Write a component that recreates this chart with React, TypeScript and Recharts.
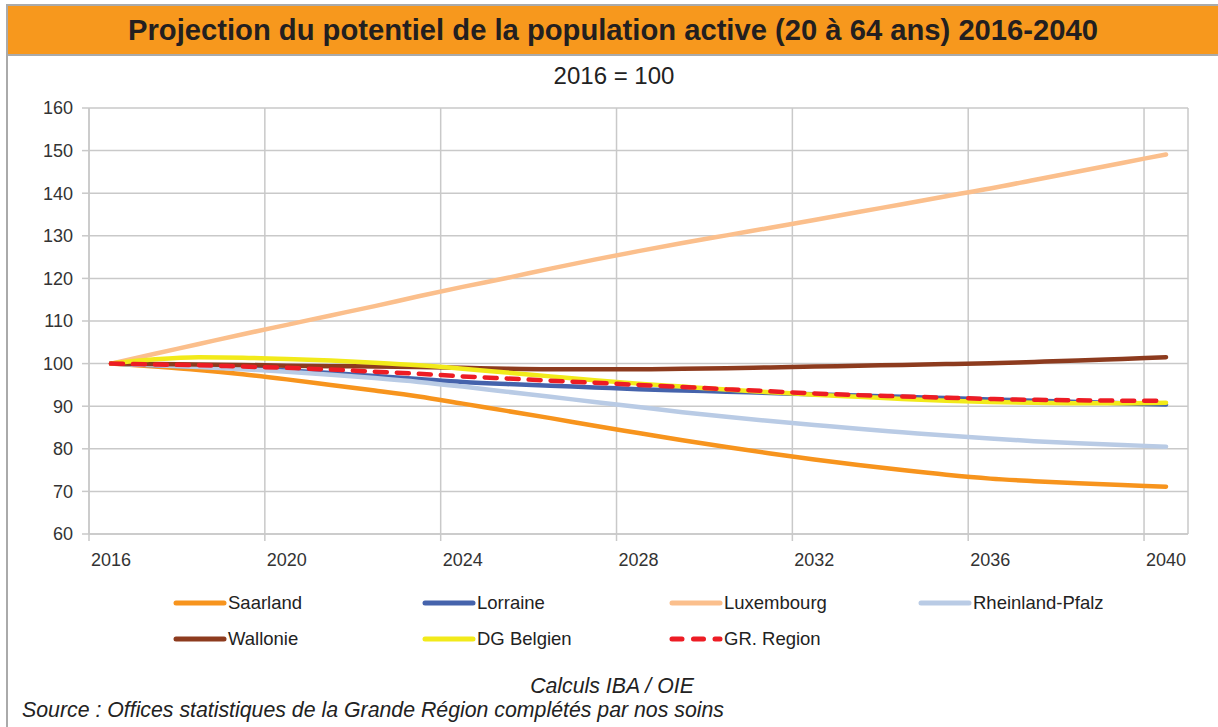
import { CartesianGrid, Line, LineChart, XAxis, YAxis } from 'recharts';

const years = [
  2016, 2017, 2018, 2019, 2020, 2021, 2022, 2023, 2024, 2025, 2026, 2027, 2028,
  2029, 2030, 2031, 2032, 2033, 2034, 2035, 2036, 2037, 2038, 2039, 2040,
];

const saarland = [
  100, 99.3, 98.5, 97.5, 96.3, 95.0, 93.7, 92.3, 90.6, 88.9, 87.2, 85.4, 83.7,
  82.0, 80.4, 78.9, 77.5, 76.2, 75.0, 73.9, 73.0, 72.4, 71.9, 71.5, 71.1,
];
const lorraine = [
  100, 99.6, 99.3, 98.9, 98.4, 97.8, 97.1, 96.4, 95.7, 95.2, 94.8, 94.4, 94.0,
  93.7, 93.4, 93.1, 92.8, 92.5, 92.2, 91.9, 91.6, 91.3, 91.0, 90.7, 90.4,
];
const luxembourg = [
  100, 102.3, 104.6, 106.9, 109.1, 111.3, 113.5, 115.8, 118.0, 120.1, 122.3,
  124.4, 126.4, 128.3, 130.1, 131.9, 133.7, 135.6, 137.4, 139.3, 141.1, 143.1,
  145.1, 147.1, 149.1,
];
const rheinlandPfalz = [
  100, 99.6, 99.2, 98.7, 98.1, 97.4, 96.6, 95.7, 94.6, 93.4, 92.2, 91.0, 89.8,
  88.6, 87.5, 86.5, 85.6, 84.7, 83.9, 83.1, 82.4, 81.8, 81.3, 80.9, 80.5,
];
const wallonie = [
  100, 99.9, 99.8, 99.7, 99.5, 99.4, 99.3, 99.2, 99.0, 98.8, 98.7, 98.7, 98.7,
  98.8, 98.9, 99.1, 99.3, 99.5, 99.7, 99.9, 100.1, 100.4, 100.7, 101.1, 101.5,
];
const dgBelgien = [
  100, 101.0, 101.5, 101.4, 101.1, 100.7, 100.2, 99.6, 98.8, 97.9, 97.0, 96.1,
  95.3, 94.6, 93.9, 93.3, 92.7, 92.2, 91.7, 91.3, 91.0, 90.8, 90.7, 90.7, 90.8,
];
const grRegion = [
  100, 99.8, 99.6, 99.3, 99.0, 98.6, 98.1, 97.6, 97.0, 96.5, 96.0, 95.5, 95.0,
  94.5, 94.0, 93.5, 93.0, 92.6, 92.3, 92.0, 91.7, 91.5, 91.4, 91.3, 91.3,
];

const yearLabels = [2016, 2020, 2024, 2028, 2032, 2036, 2040];
const yTicks = [60, 70, 80, 90, 100, 110, 120, 130, 140, 150, 160];

const series = [
  { key: 'saarland', name: 'Saarland', color: '#F7941D', values: saarland },
  { key: 'lorraine', name: 'Lorraine', color: '#4563AC', values: lorraine },
  { key: 'luxembourg', name: 'Luxembourg', color: '#FBBF8C', values: luxembourg },
  { key: 'rheinlandPfalz', name: 'Rheinland-Pfalz', color: '#B9CBE5', values: rheinlandPfalz },
  { key: 'wallonie', name: 'Wallonie', color: '#8D3B1E', values: wallonie },
  { key: 'dgBelgien', name: 'DG Belgien', color: '#F2EA1A', values: dgBelgien },
  { key: 'grRegion', name: 'GR. Region', color: '#ED1C24', values: grRegion, dashed: true },
];

const data = years.map((year, i) => {
  const row: Record<string, number> = { year };
  series.forEach((s) => {
    row[s.key] = s.values[i];
  });
  return row;
});

const FONT = '"Liberation Sans", Arial, sans-serif';
const PLOT_LEFT = 89;
const PLOT_RIGHT = 1188;
const PLOT_TOP = 108;
const PLOT_BOTTOM = 534;
const HALF_CAT = (PLOT_RIGHT - PLOT_LEFT) / years.length / 2;

// legend slots (line start x, row centre y), two rows like the original
const legendSlots = [
  [173, 603],
  [422, 603],
  [669, 603],
  [918, 603],
  [173, 639],
  [422, 639],
  [669, 639],
];

function XTick(props: any) {
  const { x, y, payload } = props;
  return (
    <text
      x={x + HALF_CAT}
      y={y + 23}
      textAnchor="middle"
      fill="#333"
      fontSize={18}
      fontFamily={FONT}
    >
      {payload.value + 0.5}
    </text>
  );
}

function LegendBox() {
  return (
    <>
      {series.map((s, i) => {
        const [lx, ly] = legendSlots[i];
        return (
          <div
            key={s.key}
            style={{ position: 'absolute', left: lx, top: ly - 12, height: 24, display: 'flex', alignItems: 'center' }}
          >
            <svg width={55} height={10}>
              <line
                x1={3}
                y1={5}
                x2={51}
                y2={5}
                stroke={s.color}
                strokeWidth={5}
                strokeLinecap="round"
                strokeDasharray={s.dashed ? '10 11.5' : undefined}
              />
            </svg>
            <span style={{ fontSize: 18.5, color: '#222', marginLeft: 0, fontFamily: FONT }}>{s.name}</span>
          </div>
        );
      })}
    </>
  );
}

export default function App() {
  return (
    <div
      style={{
        position: 'absolute',
        left: 0,
        top: 0,
        width: 1218,
        height: 727,
        background: '#fff',
        fontFamily: FONT,
        overflow: 'hidden',
      }}
    >
      <div
        style={{
          position: 'absolute',
          left: 6,
          top: 4,
          width: 1212,
          height: 723,
          borderLeft: '2px solid #aaaaaa',
          borderTop: '2px solid #aaaaaa',
          boxSizing: 'border-box',
        }}
      />
      <div
        style={{
          position: 'absolute',
          left: 8,
          top: 6,
          width: 1210,
          height: 48,
          background: '#F7981D',
          borderBottom: '2px solid #aaaaaa',
          textAlign: 'center',
          lineHeight: '48px',
          fontSize: 29.2,
          fontWeight: 'bold',
          color: '#231F20',
        }}
      >
        Projection du potentiel de la population active (20 à 64 ans) 2016-2040
      </div>
      <div
        style={{
          position: 'absolute',
          left: 0,
          top: 62,
          width: 1228,
          textAlign: 'center',
          fontSize: 24,
          color: '#222',
        }}
      >
        2016 = 100
      </div>
      <div style={{ position: 'absolute', left: 0, top: 0 }}>
        <LineChart
          width={1218}
          height={727}
          data={data}
          margin={{ top: PLOT_TOP, right: 1218 - PLOT_RIGHT, bottom: 727 - PLOT_BOTTOM - 30, left: PLOT_LEFT - 60 }}
        >
          <CartesianGrid stroke="#c9c9c9" strokeWidth={1.5} />
          <XAxis
            dataKey="year"
            type="number"
            domain={[years[0] - 0.5, years[years.length - 1] + 0.5]}
            ticks={yearLabels.map((y) => y - 0.5)}
            tick={<XTick />}
            tickSize={7}
            tickLine={{ stroke: '#c9c9c9', strokeWidth: 1.5 }}
            axisLine={{ stroke: '#c9c9c9', strokeWidth: 1.5 }}
            height={30}
            interval={0}
          />
          <YAxis
            type="number"
            domain={[60, 160]}
            ticks={yTicks}
            width={60}
            tickSize={7}
            tickMargin={9}
            tick={{ fill: '#333', fontSize: 18, fontFamily: FONT }}
            tickLine={{ stroke: '#c9c9c9', strokeWidth: 1.5 }}
            axisLine={{ stroke: '#c9c9c9', strokeWidth: 1.5 }}
            interval={0}
          />
          {series.map((s) => (
            <Line
              key={s.key}
              type="monotone"
              dataKey={s.key}
              name={s.name}
              stroke={s.color}
              strokeWidth={4.5}
              strokeLinecap="round"
              strokeDasharray={s.dashed ? '12 10' : undefined}
              dot={false}
              activeDot={false}
              isAnimationActive={false}
            />
          ))}
        </LineChart>
      </div>
      <LegendBox />
      <div
        style={{
          position: 'absolute',
          left: 0,
          top: 674,
          width: 1224,
          textAlign: 'center',
          fontSize: 21.3,
          fontStyle: 'italic',
          color: '#222',
        }}
      >
        Calculs IBA / OIE
      </div>
      <div
        style={{
          position: 'absolute',
          left: 22,
          top: 698,
          fontSize: 21.3,
          fontStyle: 'italic',
          color: '#222',
        }}
      >
        Source : Offices statistiques de la Grande Région complétés par nos soins
      </div>
    </div>
  );
}
